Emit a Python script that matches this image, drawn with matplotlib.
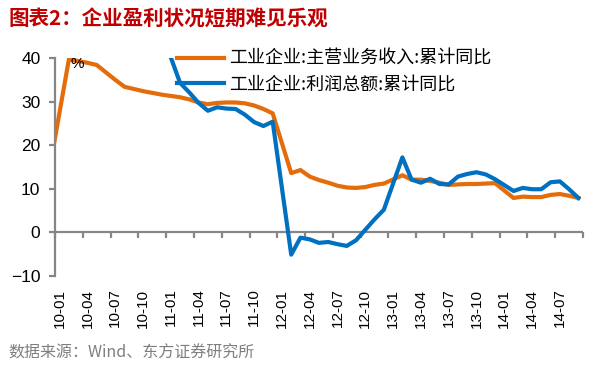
import matplotlib
matplotlib.use("Agg")
import matplotlib.pyplot as plt

plt.rcParams['font.family'] = ['Noto Sans CJK SC', 'DejaVu Sans']

# year-month of each point (Jan is reported together with Feb)
months = (['2009-12']
          + ['2010-%02d' % m for m in range(2, 13)]
          + ['2011-%02d' % m for m in range(2, 13)]
          + ['2012-%02d' % m for m in range(2, 13)]
          + ['2013-%02d' % m for m in range(2, 13)]
          + ['2014-%02d' % m for m in range(2, 10)])

# 工业企业:主营业务收入:累计同比 (%)
revenue = [15.6,
           39.7, 39.3, 38.9, 38.4, 36.7, 35.0, 33.4, 32.9, 32.4, 32.0, 31.6,
           31.0, 30.5, 29.8, 29.4, 29.7, 29.8, 29.8, 29.6, 29.1, 28.3, 27.3,
           13.6, 14.3, 12.8, 12.0, 11.4, 10.7, 10.3, 10.2, 10.4, 10.9, 11.2,
           13.1, 12.1, 12.1, 11.8, 11.4, 10.9, 11.0, 11.1, 11.1, 11.2, 11.3,
           7.9, 8.2, 8.1, 8.1, 8.6, 8.8, 8.4, 7.9]

# 工业企业:利润总额:累计同比 (%), starts Dec 2010 (earlier values are off the chart)
profit_months = months[11:]
profit = [46.0,
          34.3, 32.1, 29.7, 27.9, 28.7, 28.4, 28.3, 27.0, 25.3, 24.4, 25.4,
          -5.1, -1.2, -1.6, -2.4, -2.2, -2.7, -3.1, -1.8, 0.6, 3.0, 5.2,
          17.2, 12.1, 11.4, 12.3, 11.1, 11.0, 12.8, 13.4, 13.8, 13.3, 12.2,
          9.5, 10.2, 9.9, 9.9, 11.5, 11.7, 9.9, 7.9]

tick_labels = ['10-01', '10-04', '10-07', '10-10', '11-01', '11-04', '11-07',
               '11-10', '12-01', '12-04', '12-07', '12-10', '13-01', '13-04',
               '13-07', '13-10', '14-01', '14-04', '14-07']


def month_pos(ym):
    """
    Position of a month on the axis, 0 = start of Jan 2010
    """
    year, month = ym.split('-')
    return (int(year) - 2010) * 12 + int(month) - 1 + 0.5


ORANGE = '#E46C0A'
BLUE = '#0070C0'
GRAY = '#868686'

fig = plt.figure(figsize=(6.04, 3.66), dpi=100)
ax = fig.add_axes([55 / 604, 1 - 276 / 366, 528 / 604, 218 / 366])

ax.plot([month_pos(m) for m in months], revenue, color=ORANGE, lw=3,
        solid_joinstyle='round', label='工业企业:主营业务收入:累计同比')
ax.plot([month_pos(m) for m in profit_months], profit, color=BLUE, lw=3,
        solid_joinstyle='round', label='工业企业:利润总额:累计同比')

ax.set_xlim(0, 57)
ax.set_ylim(-10, 40)

for side in ['top', 'right', 'bottom']:
    ax.spines[side].set_visible(False)
ax.spines['left'].set_color(GRAY)
ax.spines['left'].set_linewidth(1.6)

ax.set_yticks(range(-10, 41, 10))
ax.tick_params(axis='y', colors=GRAY, length=4.5, width=1.6, labelcolor='black',
               labelsize=12.5, pad=6)
for lbl in ax.get_yticklabels():
    lbl.set_family(['Liberation Sans', 'DejaVu Sans'])

# labels sit at the bottom, under the plot
ax.set_xticks([3 * i + 0.5 for i in range(len(tick_labels))])
ax.set_xticklabels(tick_labels, rotation=90, fontsize=11,
                   family=['Liberation Sans', 'DejaVu Sans'])
ax.tick_params(axis='x', length=0, pad=9)

# zero line carries the tick marks
ax.axhline(0, color=GRAY, lw=1.6, zorder=1)
sec = ax.secondary_xaxis(0.2)
sec.set_xticks(range(0, 58, 3))
sec.tick_params(axis='x', colors=GRAY, length=4, width=1.6, labelbottom=False)
sec.spines['bottom'].set_visible(False)

ax.text(0.043, 0.972, '%', transform=ax.transAxes, fontsize=11, va='center',
        ha='center', family=['Liberation Sans', 'DejaVu Sans'])

ax.legend(loc='upper left', bbox_to_anchor=(177 / 604, 1 - 50 / 366),
          bbox_transform=fig.transFigure, frameon=False, fontsize=13,
          handlelength=2.6, handletextpad=0.3, borderpad=0, borderaxespad=0,
          labelspacing=0.42)

fig.text(8 / 604, 1 - 19 / 366, '图表2：企业盈利状况短期难见乐观', color='#C00000',
         fontsize=14.8, fontweight='bold', va='center', ha='left')
fig.text(8 / 604, 1 - 353 / 366, '数据来源：Wind、东方证券研究所', color='#7F7F7F',
         fontsize=11.5, va='center', ha='left')

fig.savefig('out.png', dpi=100)
